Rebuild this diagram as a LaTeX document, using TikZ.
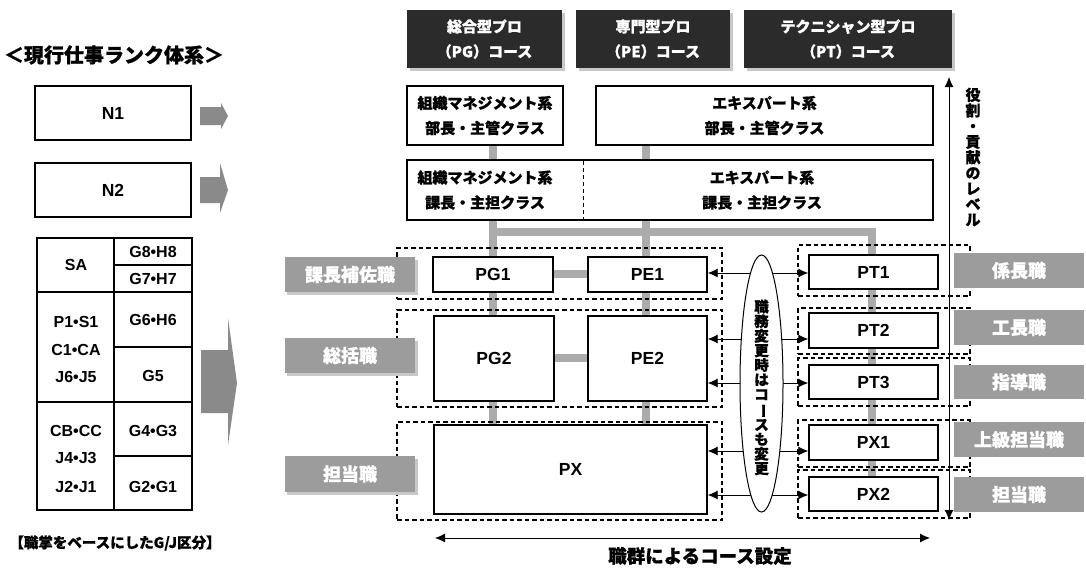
\documentclass[tikz,border=0pt]{standalone}
\usepackage{fontspec}
\setmainfont{Liberation Sans}
\newfontfamily\jp{Noto Sans CJK JP}[BoldFeatures={FakeBold=0.8}]
\usetikzlibrary{arrows.meta,shapes.geometric,calc}
\definecolor{hdrc}{HTML}{2B2B2B}
\definecolor{labc}{HTML}{9C9C9C}
\definecolor{connc}{HTML}{ABABAB}
\definecolor{arrc}{HTML}{8A8A8A}
\definecolor{shdc}{HTML}{C8C8C8}
\newcommand\myvbar{\rotatebox[origin=c]{-90}{ー}}
\tikzset{
  box/.style={draw, line width=1.4pt, fill=white, inner sep=0pt},
  latf/.style={font=\bfseries\fontsize{17.5}{20}\selectfont},
  tabf/.style={font=\bfseries\fontsize{16}{19}\selectfont},
  jpf/.style={font=\jp\bfseries\fontsize{15}{25}\selectfont, align=center},
  hdr/.style={fill=hdrc, text=white, inner sep=0pt, font=\jp\bfseries\fontsize{15}{25}\selectfont, align=center},
  hshadow/.style={fill=shdc},
  glabel/.style={fill=labc, text=white, inner sep=0pt, font=\jp\bfseries\fontsize{18}{20}\selectfont},
  grp/.style={draw, line width=1.1pt, dash pattern=on 4.5pt off 3pt},
  conn/.style={draw=connc, line width=8pt},
  dbl/.style={{Latex[length=10pt,width=9pt]}-{Latex[length=10pt,width=9pt]}, line width=0.9pt},
  blockarr/.style={fill=arrc}
}
\begin{document}
\begin{tikzpicture}[x=1pt,y=-1pt]
\fill[white] (0,0) rectangle (1086,568);
\path[use as bounding box] (0,0) rectangle (1086,568);

% ---------------- left side ----------------
\node[font=\jp\bfseries\fontsize{20}{22}\selectfont] (title) at (114,55) {＜現行仕事ランク体系＞};
\node[box, latf, minimum width=156, minimum height=54] (N1) at (113,113) {N1};
\node[box, latf, minimum width=156, minimum height=54] (N2) at (113,190) {N2};

% table
\draw[line width=1.4pt] (37,238) rectangle (192,510);
\draw[line width=1.4pt] (114,238) -- (114,510);
\draw[line width=1.4pt] (37,292) -- (192,292);
\draw[line width=1.4pt] (37,402) -- (192,402);
\draw[line width=1.2pt] (114,265) -- (192,265);
\draw[line width=1.2pt] (114,347) -- (192,347);
\draw[line width=1.2pt] (114,456) -- (192,456);
\node[tabf] (tSA) at (76,265) {SA};
\node[tabf] (tG8) at (153,252) {G8•H8};
\node[tabf] (tG7) at (153,279) {G7•H7};
\node[tabf] (tP1) at (76,322) {P1•S1};
\node[tabf] (tC1) at (76,350) {C1•CA};
\node[tabf] (tJ6) at (76,377) {J6•J5};
\node[tabf] (tG6) at (153,320) {G6•H6};
\node[tabf] (tG5) at (153,376) {G5};
\node[tabf] (tCB) at (76,431) {CB•CC};
\node[tabf] (tJ4) at (76,458) {J4•J3};
\node[tabf] (tJ2) at (76,487) {J2•J1};
\node[tabf] (tG4) at (153,431) {G4•G3};
\node[tabf] (tG2) at (153,487) {G2•G1};
\node[font=\jp\bfseries\fontsize{14.5}{16}\selectfont] (cap) at (115,543) {【職掌をベースにしたG/J区分】};

% block arrows
\fill[blockarr] (200,107) -- (221,107) -- (221,103) -- (228,116) -- (221,129) -- (221,125) -- (200,125) -- cycle;
\fill[blockarr] (200,177) -- (220,177) -- (220,163) -- (228,190) -- (220,213) -- (220,203) -- (200,203) -- cycle;
\fill[blockarr] (201,350) -- (228,350) -- (228,318) -- (237,383) -- (228,445) -- (228,413) -- (201,413) -- cycle;

% ---------------- headers ----------------
\fill[hshadow] (410,13) rectangle (565,71);
\fill[hshadow] (579,13) rectangle (733,71);
\fill[hshadow] (747,13) rectangle (955,71);
\node[hdr, minimum width=155, minimum height=58] (H1) at (484.5,39) {総合型プロ\\（PG）コース};
\node[hdr, minimum width=154, minimum height=58] (H2) at (653,39) {専門型プロ\\（PE）コース};
\node[hdr, minimum width=208, minimum height=58] (H3) at (848,39) {テクニシャン型プロ\\（PT）コース};

% ---------------- gray connectors ----------------
\coordinate (cPG) at (493,232);
\coordinate (cPE) at (646,232);
\coordinate (cPT) at (872,232);
\draw[conn] (493,140) -- (493,430);
\draw[conn] (646,140) -- (646,430);
\draw[conn] (cPG) -- (cPT) -- (872,480);

% ---------------- dashed groups ----------------
\node[grp, minimum width=325, minimum height=51, inner sep=0pt] (GL1) at (559.5,273.5) {};
\node[grp, minimum width=325, minimum height=97, inner sep=0pt] (GL2) at (559.5,358.5) {};
\node[grp, minimum width=325, minimum height=98, inner sep=0pt] (GL3) at (559.5,471) {};
\node[grp, minimum width=172, minimum height=51, inner sep=0pt] (GR1) at (884,270.5) {};
\node[grp, minimum width=172, minimum height=46, inner sep=0pt] (GR2) at (884,331) {};
\node[grp, minimum width=172, minimum height=48, inner sep=0pt] (GR3) at (884,382) {};
\node[grp, minimum width=172, minimum height=47, inner sep=0pt] (GR4) at (884,443.5) {};
\node[grp, minimum width=172, minimum height=48, inner sep=0pt] (GR5) at (884,494) {};

% ---------------- upper boxes ----------------
\node[box, jpf, minimum width=156, minimum height=59] (R1a) at (485,115.5) {組織マネジメント系\\部長・主管クラス};
\node[box, jpf, minimum width=337, minimum height=59] (R1b) at (764.5,115.5) {エキスパート系\\部長・主管クラス};
\node[box, minimum width=526, minimum height=60] (R2) at (670,190) {};
\draw[line width=1pt, dash pattern=on 4pt off 3pt] (583,161) -- (583,219);
\node[jpf] (R2a) at (485,190) {組織マネジメント系\\課長・主担クラス};
\node[jpf] (R2b) at (762,190) {エキスパート系\\課長・主担クラス};

% horizontal connectors between PG and PE
\draw[conn] (553,274) -- (588,274);
\draw[conn] (554,358) -- (588,358);

% ---------------- PG / PE / PX ----------------
\node[box, latf, minimum width=120, minimum height=35] (PG1) at (493,274.5) {PG1};
\node[box, latf, minimum width=119, minimum height=35] (PE1) at (647.5,274.5) {PE1};
\node[box, latf, minimum width=120, minimum height=85] (PG2) at (494,358.5) {PG2};
\node[box, latf, minimum width=119, minimum height=85] (PE2) at (647.5,358.5) {PE2};
\node[box, latf, minimum width=273, minimum height=89] (PX) at (570.5,469.5) {PX};

% ---------------- PT column ----------------
\node[box, latf, minimum width=129, minimum height=34] (PT1) at (873.5,272) {PT1};
\node[box, latf, minimum width=129, minimum height=35] (PT2) at (873.5,330.5) {PT2};
\node[box, latf, minimum width=129, minimum height=34] (PT3) at (873.5,382) {PT3};
\node[box, latf, minimum width=129, minimum height=35] (PX1) at (873.5,442.5) {PX1};
\node[box, latf, minimum width=129, minimum height=34] (PX2) at (873.5,494) {PX2};

% ---------------- course change arrows ----------------
\coordinate (a1) at (761.5,273);
\coordinate (a2) at (761.5,339);
\coordinate (a3) at (761.5,383);
\coordinate (a4) at (761.5,451);
\coordinate (a5) at (761.5,495);
\draw[dbl] (PE1.east |- a1) -- (PT1.west |- a1);
\draw[dbl] (PE2.east |- a2) -- (PT2.west |- a2);
\draw[dbl] (PE2.east |- a3) -- (PT3.west |- a3);
\draw[dbl] (PX.east |- a4) -- (PX1.west |- a4);
\draw[dbl] (PX.east |- a5) -- (PX2.west |- a5);
\node[draw, ellipse, line width=1pt, fill=white, minimum width=43, minimum height=257, inner sep=0pt] (ell) at (761.5,383.5) {};
\node[font=\jp\bfseries\fontsize{14.5}{14.6}\selectfont, align=center, inner sep=0pt] (elltext) at (761.5,387.5)
  {職\\務\\変\\更\\時\\は\\コ\\\myvbar\\ス\\も\\変\\更};

% ---------------- gray level labels ----------------
\fill[shdc] (287,260) rectangle (418,295);
\fill[shdc] (287,341) rectangle (418,376);
\fill[shdc] (287,459) rectangle (418,495);
\node[glabel, minimum width=130, minimum height=35] (L1) at (350,274.5) {課長補佐職};
\node[glabel, minimum width=130, minimum height=35] (L2) at (350,355.5) {総括職};
\node[glabel, minimum width=130, minimum height=36] (L3) at (350,474) {担当職};

\node[glabel, minimum width=130, minimum height=35] (M1) at (1019,270.5) {係長職};
\node[glabel, minimum width=130, minimum height=35] (M2) at (1019,327.5) {工長職};
\node[glabel, minimum width=130, minimum height=34] (M3) at (1019,382) {指導職};
\node[glabel, minimum width=130, minimum height=35] (M4) at (1019,439.5) {上級担当職};
\node[glabel, minimum width=130, minimum height=35] (M5) at (1019,494.5) {担当職};

% ---------------- axes ----------------
\coordinate (vtop) at (949,77);
\coordinate (vbot) at (949,520);
\draw[dbl] (vtop) -- (vbot);
\node[font=\jp\bfseries\fontsize{15}{15.6}\selectfont, align=center, inner sep=0pt] (vlab) at (973,157)
  {役\\割\\・\\貢\\献\\の\\レ\\ベ\\ル};

\coordinate (hleft) at (435,538);
\coordinate (hright) at (930,538);
\draw[dbl] (hleft) -- (hright);
\node[font=\jp\bfseries\fontsize{18.5}{20}\selectfont] (hlab) at (700,556) {職群によるコース設定};
\end{tikzpicture}
\end{document}
